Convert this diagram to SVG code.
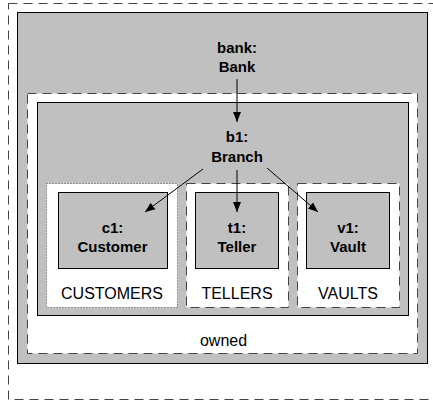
<svg xmlns="http://www.w3.org/2000/svg" width="433" height="402" viewBox="0 0 433 402">
<defs>
<style>
.dash{fill:none;stroke:#444;stroke-width:1;stroke-dasharray:9,6}
.dashw{fill:#fff;stroke:#444;stroke-width:1;stroke-dasharray:9,6}
.dotw{fill:#fff;stroke:#444;stroke-width:1;stroke-dasharray:1,2}
.box{fill:#c0c0c0;stroke:#000;stroke-width:1}
.b{font-family:"Liberation Sans",Arial,sans-serif;font-weight:bold;font-size:15px;text-anchor:middle;fill:#000}
.n{font-family:"Liberation Sans",Arial,sans-serif;font-size:16px;text-anchor:middle;fill:#000}
.ln{stroke:#000;stroke-width:1;fill:none}
</style>
<marker id="ah" viewBox="0 0 10 10" refX="10" refY="5" markerWidth="10" markerHeight="10" markerUnits="userSpaceOnUse" orient="auto">
<path d="M0,1 L10,5 L0,9 Z" fill="#000"/>
</marker>
</defs>
<rect class="dash" x="8.5" y="3.5" width="432" height="396"/>
<g id="bank">
<rect class="box" x="17.5" y="12.5" width="410" height="351"/>
<text class="b" x="237" y="53">bank:</text>
<text class="b" x="237" y="72">Bank</text>
</g>
<g id="owned">
<rect class="dashw" x="27.5" y="93.5" width="390" height="260"/>
<text class="n" x="223.5" y="346">owned</text>
</g>
<g id="branch">
<rect class="box" x="37.5" y="102.5" width="371" height="213"/>
<text class="b" x="237" y="142">b1:</text>
<text class="b" x="237" y="162">Branch</text>
</g>
<g id="customers">
<rect class="dotw" x="46.5" y="183.5" width="131" height="124"/>
<text class="n" x="112" y="299">CUSTOMERS</text>
</g>
<g id="c1">
<rect class="box" x="58.5" y="192.5" width="109" height="76"/>
<text class="b" x="112.5" y="233">c1:</text>
<text class="b" x="112.5" y="252">Customer</text>
</g>
<g id="tellers">
<rect class="dashw" x="186.5" y="183.5" width="102" height="124"/>
<text class="n" x="237" y="299">TELLERS</text>
</g>
<g id="t1">
<rect class="box" x="195.5" y="192.5" width="83" height="76"/>
<text class="b" x="237" y="233">t1:</text>
<text class="b" x="237" y="252">Teller</text>
</g>
<g id="vaults">
<rect class="dashw" x="297.5" y="183.5" width="102" height="124"/>
<text class="n" x="348" y="299">VAULTS</text>
</g>
<g id="v1">
<rect class="box" x="306.5" y="192.5" width="83" height="76"/>
<text class="b" x="348" y="233">v1:</text>
<text class="b" x="348" y="252">Vault</text>
</g>
<g id="connectors">
<line class="ln" x1="237" y1="79" x2="237" y2="122" marker-end="url(#ah)"/>
<line class="ln" x1="237" y1="170" x2="237" y2="212" marker-end="url(#ah)"/>
<line class="ln" x1="203" y1="169" x2="145" y2="212" marker-end="url(#ah)"/>
<line class="ln" x1="267" y1="168" x2="318" y2="212" marker-end="url(#ah)"/>
</g>
</svg>
